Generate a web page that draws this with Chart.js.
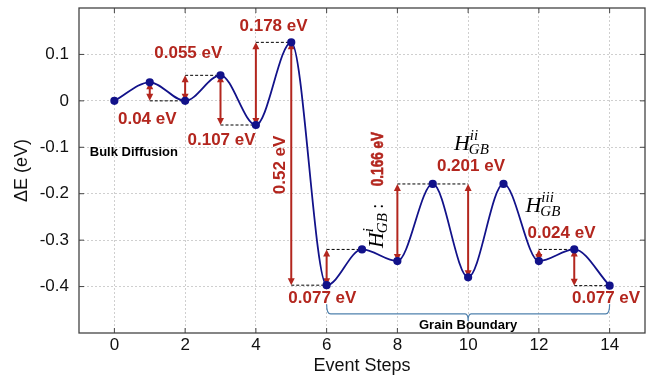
<!DOCTYPE html>
<html>
<head>
<meta charset="utf-8">
<script src="https://cdn.jsdelivr.net/npm/chart.js@4.4.1/dist/chart.umd.min.js"></script>
<style>
  html, body { margin: 0; padding: 0; background: #fff; }
  #wrap { width: 654px; height: 377px; }
</style>
</head>
<body>
<div id="wrap"><canvas id="energyChart"></canvas></div>
<script>
// Dados do caminho de difusão
const steps = [0, 1, 2, 3, 4, 5, 6, 7, 8, 9, 10, 11, 12, 13, 14];
const energy = [0, 0.04, 0, 0.055, -0.052, 0.126, -0.397, -0.32, -0.345, -0.179, -0.38, -0.179, -0.345, -0.32, -0.398];
const xTicks = [0, 2, 4, 6, 8, 10, 12, 14];
const yTicks = [-0.4, -0.3, -0.2, -0.1, 0, 0.1];

// setas de barreira: [passo, ponto inicial, ponto final]
const barrierArrows = [[1, 1, 2], [2, 2, 3], [3, 3, 4], [4, 4, 5], [5, 5, 6], [6, 6, 7], [8, 8, 9], [10, 9, 10], [12, 12, 13], [13, 13, 14]];
// linhas tracejadas: [ponto que define o nível, passo inicial, passo final]
const levelLines = [[2, 1, 2], [3, 2, 3], [4, 3, 4], [5, 4, 5], [6, 5, 6], [7, 6, 7], [9, 8, 10], [13, 12, 13], [14, 13, 14]];
const barrierLabels = ['0.04 eV', '0.055 eV', '0.107 eV', '0.178 eV', '0.52 eV', '0.077 eV', '0.166 eV', '0.201 eV', '0.024 eV', '0.077 eV'];

// onde cada rótulo fica (coordenadas do gráfico)
const labelSpots = [
  { x: 0.93, y: -0.04 }, { x: 2.09, y: 0.102 }, { x: 3.03, y: -0.085 }, { x: 4.5, y: 0.16 },
  { x: 4.69, y: -0.138, rot: true }, { x: 5.88, y: -0.425 }, null,
  { x: 10.08, y: -0.142 }, { x: 12.64, y: -0.285 }, { x: 13.9, y: -0.425 }
];

const red = '#b3261e';
const navy = '#12128a';

function drawArrow(ctx, x, y1, y2) {
  const dir = y2 > y1 ? 1 : -1;
  const head = 7, half = 3.5;
  ctx.strokeStyle = red;
  ctx.fillStyle = red;
  ctx.lineWidth = 2;
  ctx.setLineDash([]);
  ctx.beginPath();
  ctx.moveTo(x, y1 + dir * head * 0.8);
  ctx.lineTo(x, y2 - dir * head * 0.8);
  ctx.stroke();
  ctx.beginPath();
  ctx.moveTo(x, y1); ctx.lineTo(x - half, y1 + dir * head); ctx.lineTo(x + half, y1 + dir * head);
  ctx.closePath(); ctx.fill();
  ctx.beginPath();
  ctx.moveTo(x, y2); ctx.lineTo(x - half, y2 - dir * head); ctx.lineTo(x + half, y2 - dir * head);
  ctx.closePath(); ctx.fill();
}

function drawText(ctx, str, x, y, font, color, rot, sx) {
  ctx.save();
  ctx.translate(x, y);
  if (rot) ctx.rotate(rot);
  if (sx) ctx.scale(sx, 1);
  ctx.font = font;
  ctx.fillStyle = color;
  ctx.textAlign = 'center';
  ctx.textBaseline = 'middle';
  ctx.fillText(str, 0, 0);
  ctx.restore();
}

// H com índices GB
function drawH(ctx, x, y, sup) {
  ctx.fillStyle = '#000';
  ctx.textAlign = 'left';
  ctx.textBaseline = 'alphabetic';
  ctx.font = 'italic 22px "Liberation Serif"';
  ctx.fillText('H', x, y);
  const w = ctx.measureText('H').width;
  ctx.font = 'italic 15px "Liberation Serif"';
  ctx.fillText(sup, x + w, y - 10);
  ctx.fillText('GB', x + w - 1, y + 4);
  return x + w - 1 + ctx.measureText('GB').width;
}

const annotations = {
  id: 'annotations',
  beforeDatasetsDraw(chart) {
    const { ctx, scales: { x, y } } = chart;
    ctx.save();
    // linhas tracejadas
    ctx.strokeStyle = '#000';
    ctx.lineWidth = 1;
    ctx.setLineDash([3, 2]);
    levelLines.forEach(([p, a, b]) => {
      const py = y.getPixelForValue(energy[p]);
      ctx.beginPath();
      ctx.moveTo(x.getPixelForValue(a), py);
      ctx.lineTo(x.getPixelForValue(b), py);
      ctx.stroke();
    });
    // setas
    barrierArrows.forEach(([s, a, b]) => {
      drawArrow(ctx, x.getPixelForValue(s), y.getPixelForValue(energy[a]), y.getPixelForValue(energy[b]));
    });
    ctx.restore();
  },
  afterDatasetsDraw(chart) {
    const { ctx, chartArea: area, scales: { x, y } } = chart;
    ctx.save();
    const bold = 'bold 17px "Liberation Sans"';
    barrierLabels.forEach((t, i) => {
      const s = labelSpots[i];
      if (!s) return;
      drawText(ctx, t, x.getPixelForValue(s.x), y.getPixelForValue(s.y), bold, red, s.rot ? -Math.PI / 2 : 0);
    });

    // rótulo vertical H_GB^i : 0.166 eV
    ctx.save();
    ctx.translate(x.getPixelForValue(7.6), y.getPixelForValue(-0.317));
    ctx.rotate(-Math.PI / 2);
    const end = drawH(ctx, 0, 0, 'i');
    ctx.font = '18px "Liberation Serif"';
    ctx.fillText(' : ', end, 0);
    ctx.save();
    ctx.translate(89, 0);
    ctx.scale(0.8, 1);
    ctx.font = 'bold 17px "Liberation Sans"';
    ctx.fillStyle = red;
    ctx.strokeStyle = red;
    ctx.lineWidth = 0.6;
    ctx.textAlign = 'center';
    ctx.fillText(barrierLabels[6], 0, 0);
    ctx.strokeText(barrierLabels[6], 0, 0);
    ctx.restore();
    ctx.restore();

    drawH(ctx, x.getPixelForValue(9.6), y.getPixelForValue(-0.106), 'ii');
    drawH(ctx, x.getPixelForValue(11.62), y.getPixelForValue(-0.24), 'iii');

    drawText(ctx, 'Bulk Diffusion', x.getPixelForValue(0.55), y.getPixelForValue(-0.11), 'bold 13px "Liberation Sans"', '#000');

    // chave do contorno de grão
    const bx1 = x.getPixelForValue(6), bx2 = x.getPixelForValue(14), bm = x.getPixelForValue(10);
    const top = y.getPixelForValue(-0.438), mid = y.getPixelForValue(-0.459), tip = y.getPixelForValue(-0.474);
    ctx.strokeStyle = '#4f81ad';
    ctx.lineWidth = 1.2;
    ctx.beginPath();
    ctx.moveTo(bx1, top);
    ctx.quadraticCurveTo(bx1, mid, bx1 + 4, mid);
    ctx.lineTo(bm - 3, mid);
    ctx.quadraticCurveTo(bm, mid, bm, tip);
    ctx.quadraticCurveTo(bm, mid, bm + 3, mid);
    ctx.lineTo(bx2 - 4, mid);
    ctx.quadraticCurveTo(bx2, mid, bx2, top);
    ctx.stroke();
    drawText(ctx, 'Grain Boundary', x.getPixelForValue(10), y.getPixelForValue(-0.484), 'bold 13px "Liberation Sans"', '#000');

    // moldura e marcas para dentro
    ctx.strokeStyle = '#444';
    ctx.lineWidth = 1.3;
    ctx.setLineDash([]);
    ctx.strokeRect(area.left, area.top, area.right - area.left, area.bottom - area.top);
    ctx.lineWidth = 1;
    ctx.beginPath();
    xTicks.forEach(v => {
      const px = x.getPixelForValue(v);
      ctx.moveTo(px, area.bottom); ctx.lineTo(px, area.bottom - 5);
      ctx.moveTo(px, area.top); ctx.lineTo(px, area.top + 5);
    });
    yTicks.forEach(v => {
      const py = y.getPixelForValue(v);
      ctx.moveTo(area.left, py); ctx.lineTo(area.left + 5, py);
      ctx.moveTo(area.right, py); ctx.lineTo(area.right - 5, py);
    });
    ctx.stroke();
    ctx.restore();
  }
};

const gridStyle = { color: '#cfcfcf', lineWidth: 1, drawTicks: false };

const ctx = document.getElementById('energyChart').getContext('2d');
const energyChart = new Chart(ctx, {
  type: 'line',
  data: {
    datasets: [{
      data: steps.map((s, i) => ({ x: s, y: energy[i] })),
      borderColor: navy,
      backgroundColor: navy,
      borderWidth: 1.8,
      pointRadius: 3.2,
      pointHoverRadius: 3.2,
      cubicInterpolationMode: 'monotone'
    }]
  },
  options: {
    responsive: true,
    maintainAspectRatio: false,
    animation: false,
    layout: { padding: { top: 8, right: 9, left: 0, bottom: 0 } },
    plugins: { legend: { display: false }, tooltip: { enabled: false } },
    scales: {
      x: {
        type: 'linear',
        min: -1,
        max: 15,
        afterBuildTicks: scale => { scale.ticks = xTicks.map(v => ({ value: v })); },
        afterFit: scale => { scale.height = 44; scale.paddingLeft = 0; scale.paddingRight = 0; },
        grid: gridStyle,
        border: { display: false, dash: [2, 2] },
        ticks: { color: '#111', padding: 2, font: { family: 'Liberation Sans', size: 17 } },
        title: { display: true, text: 'Event Steps', color: '#111', padding: { top: 0, bottom: 0 }, font: { family: 'Liberation Sans', size: 18 } }
      },
      y: {
        min: -0.5,
        max: 0.2,
        afterBuildTicks: scale => { scale.ticks = yTicks.map(v => ({ value: v })); },
        afterFit: scale => { scale.width = 79; scale.paddingTop = 0; scale.paddingBottom = 0; },
        grid: gridStyle,
        border: { display: false, dash: [2, 2] },
        ticks: {
          color: '#111',
          padding: 10,
          font: { family: 'Liberation Sans', size: 17 },
          callback: v => String(Math.round(v * 10) / 10)
        },
        title: { display: true, text: 'ΔE (eV)', color: '#111', padding: { top: 11, bottom: 0 }, font: { family: 'Liberation Sans', size: 18 } }
      }
    }
  },
  plugins: [annotations]
});
</script>
</body>
</html>
